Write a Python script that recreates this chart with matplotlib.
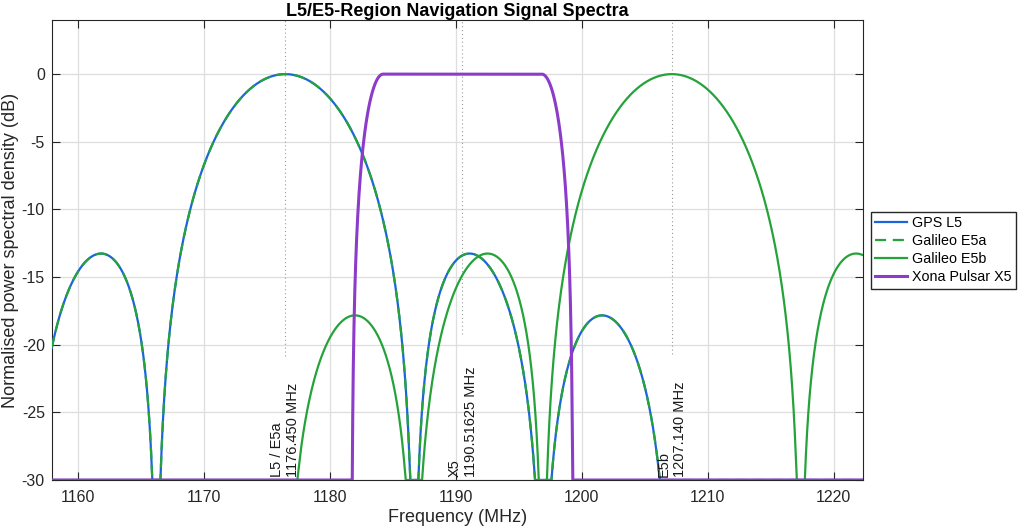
import matplotlib
matplotlib.use("Agg")
import matplotlib.pyplot as plt
import numpy as np

plt.rcParams['font.family'] = ['Liberation Sans', 'DejaVu Sans']
plt.rcParams['axes.unicode_minus'] = False

# signal parameters (MHz)
chip_rate = 10.23
n_nulls = 3             # spectra shown out to the third null either side
f_l5 = 1176.450
f_x5 = 1190.51625
f_e5b = 1207.140
x5_flat_half = 6.3      # half-width of flat top of X5 spectrum
x5_edge_half = 8.8      # half-width where X5 roll-off reaches zero
floor_db = -30.0

series_names = ['GPS L5', 'Galileo E5a', 'Galileo E5b', 'Xona Pulsar X5']
marker_freqs = [f_l5, f_x5, f_e5b]
marker_labels = ['L5 / E5a\n1176.450 MHz', 'X5\n1190.51625 MHz', 'E5b\n1207.140 MHz']

xlim = (1157.9, 1222.3)
ylim = (-30, 4)
xticks = [1160, 1170, 1180, 1190, 1200, 1210, 1220]
yticks = [-30, -25, -20, -15, -10, -5, 0]

f = np.linspace(xlim[0], xlim[1], 20001)


def bpsk_db(fc):
    p = np.sinc((f - fc) / chip_rate) ** 2
    p[np.abs(f - fc) > n_nulls * chip_rate] = 0
    return np.maximum(10 * np.log10(np.maximum(p, 1e-12)), floor_db)


def x5_db():
    d = np.abs(f - f_x5)
    p = np.ones_like(f)
    m = (d > x5_flat_half) & (d < x5_edge_half)
    p[m] = 0.5 * (1 + np.cos(np.pi * (d[m] - x5_flat_half) / (x5_edge_half - x5_flat_half)))
    p[d >= x5_edge_half] = 0
    return np.maximum(10 * np.log10(np.maximum(p, 1e-12)), floor_db)


c_blue = '#1a64dc'
c_green = '#25a33a'
c_purple = '#8d3bc9'

fig = plt.figure(figsize=(10.24, 5.29), dpi=100)
ax = fig.add_axes([0.0505, 0.0926, 0.792, 0.8696])

ax.plot(f, bpsk_db(f_l5), color=c_blue, lw=1.6, label=series_names[0], zorder=3)
ax.plot(f, bpsk_db(f_l5), color=c_green, lw=1.6, dashes=(5, 3), label=series_names[1], zorder=4)
ax.plot(f, bpsk_db(f_e5b), color=c_green, lw=1.6, label=series_names[2], zorder=4)
ax.plot(f, x5_db(), color=c_purple, lw=2.2, label=series_names[3], zorder=5)

# centre-frequency markers
line_bottoms = [-20.8, -19.2, -20.7]
for fc, lab, yb in zip(marker_freqs, marker_labels, line_bottoms):
    ax.plot([fc, fc], [yb, ylim[1]], color='#999999', lw=0.8, ls=(0, (1, 2.5)), zorder=2)
    ax.text(fc, -29.8, lab, rotation=90, ha='center', va='bottom',
            multialignment='left', fontsize=10.5, color='#1a1a1a', zorder=6)

ax.set_xlim(xlim)
ax.set_ylim(ylim)
ax.set_xticks(xticks)
ax.set_yticks(yticks)
ax.grid(True, color='#dedede', lw=0.9)
ax.set_axisbelow(True)
ax.tick_params(direction='in', top=True, right=True, length=5.5, width=0.8,
               labelsize=11.5, colors='#262626')
ax.tick_params(axis='x', pad=7)
ax.tick_params(axis='y', pad=5)
for s in ax.spines.values():
    s.set_color('#262626')
    s.set_linewidth(0.8)

ax.set_xlabel('Frequency (MHz)', fontsize=13, color='#262626', labelpad=3)
ax.set_ylabel('Normalised power spectral density (dB)', fontsize=13, color='#262626', labelpad=2)
ax.set_title('L5/E5-Region Navigation Signal Spectra', fontsize=13, fontweight='bold', pad=3)

ax.legend(loc='upper left', bbox_to_anchor=(871 / 1024, 1 - 212 / 529),
          bbox_transform=fig.transFigure, fontsize=10.3, frameon=True, fancybox=False,
          edgecolor='#262626', framealpha=1, borderpad=0.3, labelspacing=0.28,
          handlelength=2.2, handletextpad=0.35, borderaxespad=0)

fig.savefig('out.png', dpi=100)
